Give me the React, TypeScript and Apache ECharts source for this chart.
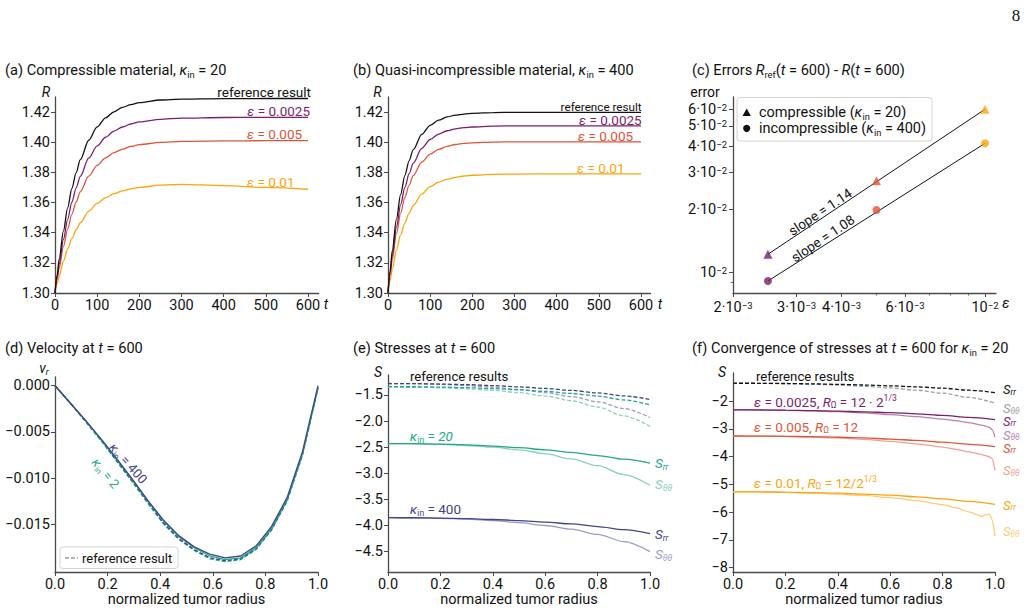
import React, { useEffect, useRef } from 'react';
import * as echarts from 'echarts';

const FONT = 'Roboto';
const INK = '#111111';
const AXIS = '#4a4a4a';

// line colours
const C_REF = '#111111';
const C_E0025 = '#7b1e6e';
const C_E005 = '#e0533b';
const C_E01 = '#fca50a';
const C_E0025_L = '#b683af';
const C_E005_L = '#eea193';
const C_E01_L = '#fdcb78';
const C_K400 = '#414487';
const C_K400_L = '#9b9cc4';
const C_K20 = '#22a884';
const C_K20_L = '#88d1be';
const C_GREY = '#a0a0a0';

// ---- (a), (b): tumour radius R(t) ----
const tGrid = [0, 5, 10, 20, 30, 40, 50, 60, 80, 100, 120, 140, 160, 180, 200, 250, 300, 400, 500, 600];
const aRef = [1.3, 1.3119, 1.3226, 1.3412, 1.3565, 1.3693, 1.3797, 1.3884, 1.4013, 1.4102, 1.4162, 1.4202, 1.4231, 1.425, 1.4263, 1.428, 1.4286, 1.4289, 1.429, 1.429];
const aEps0025 = [1.3, 1.3101, 1.3193, 1.3355, 1.3489, 1.3602, 1.3696, 1.3774, 1.3894, 1.3976, 1.4033, 1.4074, 1.4101, 1.4121, 1.4135, 1.4152, 1.416, 1.4164, 1.4165, 1.4165];
const aEps005 = [1.3, 1.3088, 1.3168, 1.3308, 1.3424, 1.3522, 1.3603, 1.3671, 1.3775, 1.3846, 1.3896, 1.3931, 1.3954, 1.3972, 1.3984, 1.3999, 1.4006, 1.4009, 1.401, 1.401];
const aEps01 = [1.3, 1.306, 1.3114, 1.3211, 1.3292, 1.336, 1.3418, 1.3466, 1.3541, 1.3594, 1.3632, 1.3659, 1.3677, 1.369, 1.37, 1.3716, 1.3721, 1.3712, 1.37, 1.3688];
const bRef = [1.3, 1.3147, 1.3277, 1.349, 1.3654, 1.378, 1.3877, 1.3951, 1.4052, 1.4112, 1.4146, 1.4168, 1.418, 1.4187, 1.4192, 1.4197, 1.4198, 1.4198, 1.4198, 1.4198];
const bEps0025 = [1.3, 1.3131, 1.3245, 1.3436, 1.3586, 1.3701, 1.3791, 1.3862, 1.3959, 1.4018, 1.4054, 1.4076, 1.4089, 1.4097, 1.4101, 1.4107, 1.4109, 1.4109, 1.4109, 1.4109];
const bEps005 = [1.3, 1.3118, 1.3222, 1.3394, 1.353, 1.3634, 1.3715, 1.3779, 1.3868, 1.3921, 1.3953, 1.3973, 1.3985, 1.3992, 1.3996, 1.4001, 1.4003, 1.4003, 1.4003, 1.4003];
const bEps01 = [1.3, 1.3083, 1.3157, 1.3284, 1.3385, 1.3465, 1.353, 1.3581, 1.3656, 1.3705, 1.3735, 1.3754, 1.3767, 1.3776, 1.3781, 1.3787, 1.3789, 1.379, 1.379, 1.379];
const tTicks = [0, 100, 200, 300, 400, 500, 600];
const rTicks = [1.3, 1.32, 1.34, 1.36, 1.38, 1.4, 1.42];

// ---- (c): errors at t = 600 ----
const epsVals = [0.0025, 0.005, 0.01];
const epsColors = [C_E0025, C_E005, C_E01];
const errComp = [0.01224, 0.0274, 0.06];
const errIncomp = [0.00913, 0.0199, 0.0413];
const cXTicks = [0.002, 0.003, 0.004, 0.006, 0.01];
const cXLabels = ['2·10{e|−3}', '3·10{e|−3}', '4·10{e|−3}', '6·10{e|−3}', '10{e|−2}'];
const cXMinor = [0.005, 0.007, 0.008, 0.009];
const cYTicks = [0.01, 0.02, 0.03, 0.04, 0.05, 0.06];
const cYLabels = ['10{e|−2}', '2·10{e|−2}', '3·10{e|−2}', '4·10{e|−2}', '5·10{e|−2}', '6·10{e|−2}'];
const cYMinor = [0.009];

// ---- (d): radial velocity at t = 600 ----
const rNodes = [0, 0.0588, 0.1176, 0.1765, 0.2353, 0.2941, 0.3529, 0.4118, 0.4706, 0.5294, 0.5882, 0.6471, 0.7059, 0.7647, 0.8235, 0.8824, 0.9412, 1.0];
const vK400 = [0, -0.0019, -0.0038, -0.0058, -0.0079, -0.0101, -0.0124, -0.0145, -0.0162, -0.0174, -0.0182, -0.0186, -0.0184, -0.0173, -0.0152, -0.0121, -0.0071, 0];
const vK2 = [0, -0.0019, -0.0038, -0.0059, -0.008, -0.0102, -0.0125, -0.0146, -0.0163, -0.0175, -0.0184, -0.0188, -0.0186, -0.0175, -0.0154, -0.0123, -0.0073, -0.0002];
const vRefK400 = [0, -0.0019, -0.0039, -0.0059, -0.0081, -0.0103, -0.0126, -0.0148, -0.0165, -0.0177, -0.0186, -0.0189, -0.0187, -0.0176, -0.0155, -0.0124, -0.0074, -0.0002];
const vRefK2 = [0, -0.0019, -0.0039, -0.006, -0.0082, -0.0104, -0.0127, -0.0149, -0.0166, -0.0178, -0.0187, -0.019, -0.0188, -0.0177, -0.0156, -0.0125, -0.0075, -0.0003];
const vTicks = [0, -0.005, -0.01, -0.015];
const xrTicks = [0, 0.2, 0.4, 0.6, 0.8, 1.0];

// ---- (e): stresses at t = 600 ----
const rE = [0, 0.1, 0.2, 0.3, 0.4, 0.5, 0.6, 0.7, 0.8, 0.9, 1.0];
const eSrr20 = [-2.43, -2.432, -2.44, -2.455, -2.478, -2.51, -2.55, -2.6, -2.66, -2.73, -2.805];
const eStt20 = [-2.43, -2.434, -2.446, -2.468, -2.5, -2.55, -2.625, -2.725, -2.855, -3.025, -3.23];
const eSrr400 = [-3.85, -3.852, -3.858, -3.868, -3.885, -3.905, -3.935, -3.97, -4.02, -4.08, -4.155];
const eStt400 = [-3.85, -3.853, -3.862, -3.878, -3.905, -3.945, -4.0, -4.07, -4.17, -4.31, -4.5];
const eRefSrr400 = [-1.28, -1.282, -1.29, -1.302, -1.32, -1.345, -1.375, -1.412, -1.46, -1.518, -1.585];
const eRefStt400 = [-1.28, -1.284, -1.296, -1.318, -1.35, -1.395, -1.455, -1.53, -1.63, -1.76, -1.93];
const eRefSrr20 = [-1.34, -1.342, -1.348, -1.36, -1.378, -1.4, -1.43, -1.47, -1.52, -1.595, -1.69];
const eRefStt20 = [-1.35, -1.353, -1.362, -1.38, -1.41, -1.455, -1.52, -1.61, -1.73, -1.9, -2.1];
const sTicksE = [-1.5, -2, -2.5, -3, -3.5, -4, -4.5];

// ---- (f): convergence of stresses, kappa_in = 20 ----
const rFt = [0, 0.1, 0.2, 0.3, 0.4, 0.5, 0.6, 0.7, 0.8, 0.85, 0.9, 0.95, 0.97, 0.98, 0.99, 1.0];
const fRefSrr = [-1.36, -1.362, -1.37, -1.383, -1.4, -1.425, -1.455, -1.49, -1.54, -1.61, -1.7];
const fRefStt = [-1.36, -1.364, -1.375, -1.395, -1.425, -1.47, -1.53, -1.61, -1.72, -1.87, -2.08];
const fSrr0025 = [-2.32, -2.322, -2.33, -2.345, -2.365, -2.39, -2.42, -2.46, -2.52, -2.59, -2.67];
const fSrr005 = [-3.26, -3.262, -3.27, -3.285, -3.305, -3.33, -3.37, -3.42, -3.48, -3.56, -3.64];
const fSrr01 = [-5.27, -5.272, -5.28, -5.295, -5.32, -5.35, -5.39, -5.45, -5.52, -5.61, -5.72];
const fStt0025 = [-2.32, -2.324, -2.335, -2.355, -2.385, -2.43, -2.49, -2.56, -2.65, -2.71, -2.78, -2.87, -2.92, -2.96, -3.04, -3.31];
const fStt005 = [-3.26, -3.265, -3.277, -3.3, -3.33, -3.38, -3.45, -3.54, -3.66, -3.74, -3.83, -3.93, -3.98, -4.02, -4.08, -4.5];
const fStt01 = [-5.27, -5.275, -5.29, -5.315, -5.35, -5.4, -5.48, -5.59, -5.73, -5.84, -5.99, -6.15, -6.08, -6.08, -6.3, -6.86];
const sTicksF = [-2, -3, -4, -5, -6, -7, -8];

const zip = (xs: number[], ys: number[]) => xs.map((x, i) => [x, ys[i]]);
const lg = (v: number) => Math.log10(v);
const neg = (s: string) => s.replace('-', '\u2212');

const labelStyle = (extra: any = {}) => ({
  show: true,
  fontFamily: FONT,
  fontSize: 14.5,
  color: INK,
  margin: 5,
  lineHeight: 14,
  showMinLabel: true,
  showMaxLabel: true,
  ...extra,
});

function makeAxis(kind: 'x' | 'y', grid: number, min: number, max: number, ticks: number[], fmt: any, extra: any = {}) {
  return {
    type: 'value',
    gridIndex: grid,
    min,
    max,
    position: kind === 'x' ? 'bottom' : 'left',
    axisLine: { show: true, onZero: false, lineStyle: { color: AXIS, width: 1.3 } },
    axisTick: { show: true, length: 4, customValues: ticks, lineStyle: { color: AXIS, width: 1 } },
    axisLabel: labelStyle({ customValues: ticks, formatter: fmt, ...(extra.label || {}) }),
    splitLine: { show: false },
  };
}

function minorAxis(kind: 'x' | 'y', grid: number, min: number, max: number, ticks: number[]) {
  return {
    type: 'value',
    gridIndex: grid,
    min,
    max,
    position: kind === 'x' ? 'bottom' : 'left',
    axisLine: { show: false, onZero: false },
    axisTick: { show: true, length: 2.5, customValues: ticks, lineStyle: { color: AXIS, width: 0.8 } },
    axisLabel: { show: false },
    splitLine: { show: false },
  };
}

const supRich = {
  e: { fontFamily: FONT, fontSize: 9.5, color: INK, lineHeight: 6, verticalAlign: 'top' },
};

const logLabel = (vals: number[], labels: string[]) => (v: number) => {
  const i = vals.findIndex((t) => Math.abs(lg(t) - v) < 1e-4);
  return i >= 0 ? labels[i] : '';
};

function richFor(size: number, color: string, lhf: number) {
  const b = { fontFamily: FONT, fill: color, color };
  const lh = Math.round(size * lhf);
  const small = lhf < 1.1 ? 0.3 : 0.5;
  return {
    i: { ...b, fontSize: size, fontStyle: 'italic', lineHeight: lh },
    n: { ...b, fontSize: size, lineHeight: lh },
    sub: { ...b, fontSize: size * 0.64, lineHeight: size * small, verticalAlign: 'bottom' },
    isub: { ...b, fontSize: size * 0.64, fontStyle: 'italic', lineHeight: size * small, verticalAlign: 'bottom' },
    sup: { ...b, fontSize: size * 0.64, lineHeight: size * small, verticalAlign: 'top' },
  };
}

function T(x: number, y: number, text: string, o: any = {}) {
  const size = o.size ?? 14;
  const color = o.color ?? INK;
  const lhf = o.plain === true ? 1 : o.lhf ?? 1.2;
  return {
    type: 'text',
    x,
    y,
    rotation: o.rot ?? 0,
    z: 100,
    silent: true,
    style: {
      text,
      fill: color,
      fontSize: size,
      fontFamily: o.family ?? FONT,
      fontStyle: o.italic ? 'italic' : 'normal',
      lineHeight: Math.round(size * lhf),
      textAlign: o.align ?? 'left',
      textVerticalAlign: 'middle',
      rich: richFor(size, color, lhf),
    },
  };
}

const line = (ax: number, data: number[][], color: string, o: any = {}) => ({
  type: 'line',
  xAxisIndex: ax,
  yAxisIndex: ax,
  data,
  symbol: 'none',
  showSymbol: false,
  smooth: o.smooth ?? 0.3,
  smoothMonotone: 'x',
  silent: true,
  z: o.z ?? 2,
  lineStyle: { color, width: o.width ?? 1.3, type: o.dash ? [4, 2] : 'solid' },
});

function buildOption() {
  const grids = [
    { left: 55, top: 97, width: 263.5, height: 196 },
    { left: 388, top: 97, width: 262.5, height: 196 },
    { left: 733, top: 97, width: 263, height: 196 },
    { left: 55, top: 377, width: 263, height: 195 },
    { left: 388, top: 375, width: 262, height: 197 },
    { left: 733, top: 373, width: 262, height: 199 },
  ].map((g) => ({ ...g, outerBoundsMode: 'none', containLabel: false }));

  const fmtInt = (v: number) => String(Math.round(v));
  const fmt2 = (v: number) => neg(v.toFixed(2));
  const fmtR = (v: number) => v.toFixed(1);

  const cXmin = lg(0.002);
  const cXmax = -1.9695;
  const cYmin = -2.0967;
  const cYmax = -1.1634;

  const bottomRow = { label: { margin: 6, lineHeight: 12.5 } };
  const xAxis = [
    makeAxis('x', 0, 0, 625, tTicks, fmtInt),
    makeAxis('x', 1, 0, 622.5, tTicks, fmtInt),
    makeAxis('x', 2, cXmin, cXmax, cXTicks.map(lg), logLabel(cXTicks, cXLabels), { label: { rich: supRich, margin: 7 } }),
    makeAxis('x', 3, 0, 1, xrTicks, fmtR, bottomRow),
    makeAxis('x', 4, 0, 1, xrTicks, fmtR, bottomRow),
    makeAxis('x', 5, 0, 1, xrTicks, fmtR, bottomRow),
    minorAxis('x', 2, cXmin, cXmax, cXMinor.map(lg)),
  ];
  const yAxis = [
    makeAxis('y', 0, 1.3, 1.43, rTicks, fmt2),
    makeAxis('y', 1, 1.3, 1.43, rTicks, fmt2),
    makeAxis('y', 2, cYmin, cYmax, cYTicks.map(lg), logLabel(cYTicks, cYLabels), { label: { rich: supRich, margin: 6 } }),
    makeAxis('y', 3, -0.02013, 0.00094, vTicks, (v: number) => (Math.abs(v) < 1e-9 ? '0.000' : neg(v.toFixed(3)))),
    makeAxis('y', 4, -4.891, -1.117, sTicksE, (v: number) => neg(v.toFixed(1))),
    makeAxis('y', 5, -8.156, -0.992, sTicksF, (v: number) => neg(String(Math.round(v)))),
    minorAxis('y', 2, cYmin, cYmax, cYMinor.map(lg)),
  ];

  const series: any[] = [
    // (a)
    line(0, zip(tGrid, aEps01), C_E01),
    line(0, zip(tGrid, aEps005), C_E005),
    line(0, zip(tGrid, aEps0025), C_E0025),
    line(0, zip(tGrid, aRef), C_REF),
    // (b)
    line(1, zip(tGrid, bEps01), C_E01),
    line(1, zip(tGrid, bEps005), C_E005),
    line(1, zip(tGrid, bEps0025), C_E0025),
    line(1, zip(tGrid, bRef), C_REF),
    // (c) convergence lines through first and last runs
    line(2, [[lg(epsVals[0]), lg(errComp[0])], [lg(epsVals[2]), lg(errComp[2])]], INK, { smooth: false, width: 1 }),
    line(2, [[lg(epsVals[0]), lg(errIncomp[0])], [lg(epsVals[2]), lg(errIncomp[2])]], INK, { smooth: false, width: 1 }),
    {
      type: 'scatter', xAxisIndex: 2, yAxisIndex: 2, symbol: 'triangle', symbolSize: 9, z: 5, silent: true,
      data: epsVals.map((e, i) => ({ value: [lg(e), lg(errComp[i])], itemStyle: { color: epsColors[i] } })),
    },
    {
      type: 'scatter', xAxisIndex: 2, yAxisIndex: 2, symbol: 'circle', symbolSize: 8, z: 5, silent: true,
      data: epsVals.map((e, i) => ({ value: [lg(e), lg(errIncomp[i])], itemStyle: { color: epsColors[i] } })),
    },
    // (d)
    line(3, zip(rNodes, vRefK2), C_K20, { dash: true, smooth: false }),
    line(3, zip(rNodes, vRefK400), C_K400, { dash: true, smooth: false }),
    line(3, zip(rNodes, vK2), C_K20, { smooth: false }),
    line(3, zip(rNodes, vK400), C_K400, { smooth: false }),
    // (e)
    line(4, zip(rE, eRefStt20), C_K20_L, { dash: true }),
    line(4, zip(rE, eRefStt400), C_K400_L, { dash: true }),
    line(4, zip(rE, eRefSrr20), C_K20, { dash: true }),
    line(4, zip(rE, eRefSrr400), C_K400, { dash: true }),
    line(4, zip(rE, eStt20), C_K20_L),
    line(4, zip(rE, eSrr20), C_K20),
    line(4, zip(rE, eStt400), C_K400_L),
    line(4, zip(rE, eSrr400), C_K400),
    // (f)
    line(5, zip(rE, fRefStt), C_GREY, { dash: true }),
    line(5, zip(rE, fRefSrr), C_REF, { dash: true }),
    line(5, zip(rFt, fStt0025), C_E0025_L, { smooth: 0.2 }),
    line(5, zip(rE, fSrr0025), C_E0025),
    line(5, zip(rFt, fStt005), C_E005_L, { smooth: 0.2 }),
    line(5, zip(rE, fSrr005), C_E005),
    line(5, zip(rFt, fStt01), C_E01_L, { smooth: 0.2 }),
    line(5, zip(rE, fSrr01), C_E01),
  ];

  const kin = '{i|κ}{sub|in}';
  const Srr = '{i|S}{isub|rr}';
  const Stt = '{i|S}{isub|θθ}';
  const lbl = 13.5;
  const ttl = 14.6;
  const tight = { size: 13, lhf: 0.95 };

  const graphic: any[] = [
    // page number
    T(1016, 15, '8', { family: 'Liberation Serif', size: 17, align: 'center', plain: true }),
    // panel titles
    T(5, 70, `(a) Compressible material, ${kin} = 20`, { size: ttl }),
    T(353, 70, `(b) Quasi-incompressible material, ${kin} = 400`, { size: ttl }),
    T(692, 70, '(c) Errors {i|R}{sub|ref}({i|t} = 600) - {i|R}({i|t} = 600)', { size: ttl }),
    T(5, 348, '(d) Velocity at {i|t} = 600', { size: ttl }),
    T(353, 348, '(e) Stresses at {i|t} = 600', { size: ttl }),
    T(692, 348, `(f) Convergence of stresses at {i|t} = 600 for ${kin} = 20`, { size: ttl }),
    // axis names
    T(46, 91.5, '{i|R}', { align: 'center' }),
    T(326, 304, '{i|t}', { align: 'center' }),
    T(377.5, 92, '{i|R}', { align: 'center' }),
    T(660, 304, '{i|t}', { align: 'center' }),
    T(705, 92, 'error', { align: 'center', plain: true }),
    T(1006, 303, '{i|ε}', { align: 'center' }),
    T(44, 368, '{i|v}{isub|r}', { align: 'center' }),
    T(378, 372, '{i|S}', { align: 'center' }),
    T(722, 372, '{i|S}', { align: 'center' }),
    T(186.5, 599, 'normalized tumor radius', { align: 'center', size: 14.5, plain: true }),
    T(519, 599, 'normalized tumor radius', { align: 'center', size: 14.5, plain: true }),
    T(864, 599, 'normalized tumor radius', { align: 'center', size: 14.5, plain: true }),
    // (a) curve labels
    T(311, 92.3, 'reference result', { align: 'right', size: lbl, plain: true }),
    T(310, 111, '{i|ε} = 0.0025', { align: 'right', size: lbl, color: C_E0025 }),
    T(247, 134.3, '{i|ε} = 0.005', { size: lbl, color: C_E005 }),
    T(247, 181.7, '{i|ε} = 0.01', { size: lbl, color: C_E01 }),
    // (b) curve labels
    T(641.7, 106.7, 'reference result', { align: 'right', size: 11.7, plain: true }),
    T(641.7, 120, '{i|ε} = 0.0025', { align: 'right', size: lbl, color: C_E0025 }),
    T(578, 135.7, '{i|ε} = 0.005', { size: lbl, color: C_E005 }),
    T(577, 167.7, '{i|ε} = 0.01', { size: lbl, color: C_E01 }),
    // (c) legend
    { type: 'rect', z: 90, silent: true, shape: { x: 737, y: 97.5, width: 195, height: 43.5, r: 3 }, style: { fill: '#ffffff', stroke: '#d4d4d4', lineWidth: 1 } },
    { type: 'polygon', z: 95, silent: true, shape: { points: [[746.7, 108.4], [750.9, 116], [742.5, 116]] }, style: { fill: INK } },
    { type: 'circle', z: 95, silent: true, shape: { cx: 746.7, cy: 128.3, r: 3.6 }, style: { fill: INK } },
    T(759, 112.3, `compressible (${kin} = 20)`, { size: 14.5 }),
    T(759, 128.8, `incompressible (${kin} = 400)`, { size: 14.5 }),
    T(820, 211.7, 'slope = 1.14', { align: 'center', size: lbl, rot: 0.589, plain: true }),
    T(822.7, 238.3, 'slope = 1.08', { align: 'center', size: lbl, rot: 0.589, plain: true }),
    // (d) legend and curve labels
    { type: 'rect', z: 90, silent: true, shape: { x: 60, y: 547, width: 118, height: 21.5, r: 3 }, style: { fill: '#ffffff', stroke: '#d4d4d4', lineWidth: 1 } },
    { type: 'line', z: 95, silent: true, shape: { x1: 65, y1: 558, x2: 78, y2: 558 }, style: { stroke: '#9a9a9a', lineWidth: 1.3, lineDash: [4, 2] } },
    T(82, 558, 'reference result', { size: 13, plain: true }),
    T(128.3, 463.3, `${kin} = 400`, { align: 'center', size: 13, color: C_K400, rot: -0.84 }),
    T(105.7, 473.3, `${kin} = 2`, { align: 'center', size: 13, color: C_K20, rot: -0.89 }),
    // (e) labels
    T(410, 376.7, 'reference results', { size: 13.2, plain: true }),
    T(410, 436, `${kin} = {i|20}`, { size: lbl, color: C_K20 }),
    T(410, 509.3, `${kin} = 400`, { size: lbl, color: C_K400 }),
    T(655, 463.3, Srr, { size: lbl, color: C_K20 }),
    T(655, 484, Stt, { size: lbl, color: C_K20_L }),
    T(655, 534, Srr, { size: lbl, color: C_K400 }),
    T(655, 554, Stt, { size: lbl, color: C_K400_L }),
    // (f) labels
    T(756, 376.7, 'reference results', { size: 13.2, plain: true }),
    T(754, 401.7, '{i|ε} = 0.0025, {i|R}{sub|Ω} = 12 · 2{sup|1/3}', { size: lbl, color: C_E0025 }),
    T(754, 426.7, '{i|ε} = 0.005, {i|R}{sub|Ω} = 12', { size: lbl, color: C_E005 }),
    T(754, 482.7, '{i|ε} = 0.01, {i|R}{sub|Ω} = 12/2{sup|1/3}', { size: lbl, color: C_E01 }),
    T(1003, 389.5, Srr, { ...tight, color: C_REF }),
    T(1003, 408.5, Stt, { ...tight, color: C_GREY }),
    T(1003, 421, Srr, { ...tight, color: C_E0025 }),
    T(1003, 435, Stt, { ...tight, color: C_E0025_L }),
    T(1003, 448, Srr, { ...tight, color: C_E005 }),
    T(1003, 470.7, Stt, { ...tight, color: C_E005_L }),
    T(1003, 505, Srr, { ...tight, color: C_E01 }),
    T(1003, 531.7, Stt, { ...tight, color: C_E01_L }),
  ];

  return {
    animation: false,
    backgroundColor: '#ffffff',
    textStyle: { fontFamily: FONT },
    grid: grids,
    xAxis,
    yAxis,
    series,
    graphic,
  };
}

export default function App() {
  const ref = useRef<HTMLDivElement>(null);
  useEffect(() => {
    if (!ref.current) return;
    const chart = echarts.init(ref.current, undefined, { renderer: 'svg' });
    chart.setOption(buildOption() as any);
    return () => chart.dispose();
  }, []);
  return (
    <div
      ref={ref}
      style={{ position: 'absolute', left: 0, top: 0, width: 1027, height: 611, background: '#ffffff' }}
    />
  );
}
